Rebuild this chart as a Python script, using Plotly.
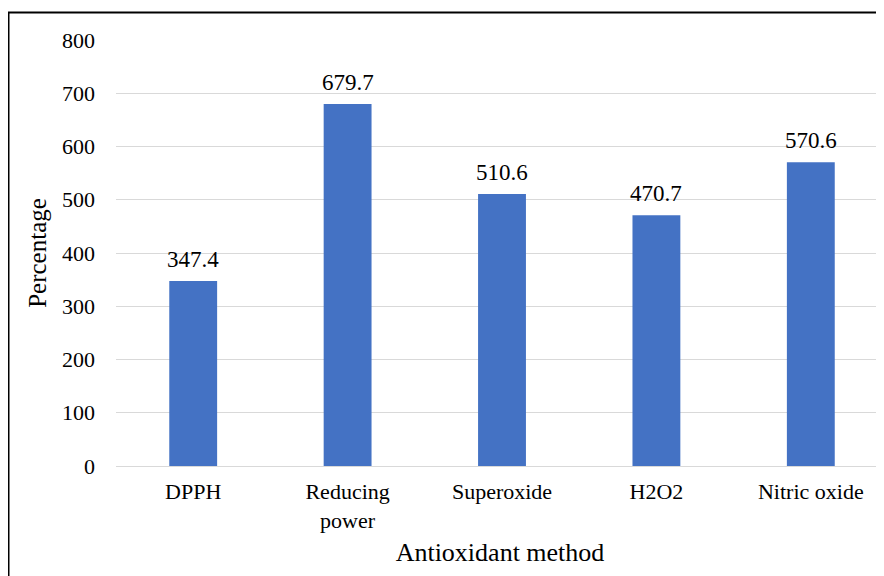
import plotly.graph_objects as go

categories = ["DPPH", "Reducing<br>power", "Superoxide", "H2O2", "Nitric oxide"]
values = [347.4, 679.7, 510.6, 470.7, 570.6]
value_labels = ["347.4", "679.7", "510.6", "470.7", "570.6"]
y_ticks = [0, 100, 200, 300, 400, 500, 600, 700, 800]

FONT = "'Times New Roman', 'Liberation Serif', 'DejaVu Serif', serif"
BLUE = "#4472C4"
GRID = "#D9D9D9"

# page body has an 8px margin; figure sized so it fills the window
W, H = 876, 568
L, T = 108, 32
PLOT_W = W - L
PLOT_H = 458.5 - T

fig = go.Figure()
fig.add_trace(go.Bar(
    x=list(range(len(categories))),
    y=values,
    marker=dict(color=BLUE, line=dict(width=0)),
    width=0.31,
    hoverinfo="skip",
))

for i, (v, lab) in enumerate(zip(values, value_labels)):
    fig.add_annotation(
        x=i, y=v, text=lab, showarrow=False,
        xref="x", yref="y", yanchor="bottom", yshift=7,
        font=dict(family=FONT, size=23, color="#000000"),
    )

fig.update_layout(
    width=W, height=H,
    margin=dict(l=L, r=0, t=T, b=H - 458.5, pad=0),
    paper_bgcolor="white", plot_bgcolor="white",
    showlegend=False,
    font=dict(family=FONT, size=22, color="#000000"),
    xaxis=dict(
        tickmode="array",
        tickvals=list(range(len(categories))),
        ticktext=categories,
        range=[-0.5, 4.474],
        showgrid=False, zeroline=False, showline=False,
        ticks="", ticklabelstandoff=10,
        title=dict(text="Antioxidant method", standoff=11,
                   font=dict(family=FONT, size=26)),
        tickfont=dict(family=FONT, size=22),
    ),
    yaxis=dict(
        range=[0, 800],
        tickmode="array",
        tickvals=y_ticks,
        ticktext=[str(t) for t in y_ticks],
        showgrid=True, gridcolor=GRID, gridwidth=1,
        zeroline=True, zerolinecolor=GRID, zerolinewidth=1,
        showline=False, ticks="", ticklabelstandoff=20,
        title=dict(text="Percentage", standoff=8,
                   font=dict(family=FONT, size=25)),
        tickfont=dict(family=FONT, size=22),
    ),
    shapes=[dict(
        type="rect", xref="paper", yref="paper",
        x0=(0.5 - L) / PLOT_W, x1=1.05,
        y0=-0.5, y1=1 + (T - 4.5) / PLOT_H,
        line=dict(color="#000000", width=2), fillcolor="rgba(0,0,0,0)",
        layer="above",
    )],
)

fig.write_html("out.html")
